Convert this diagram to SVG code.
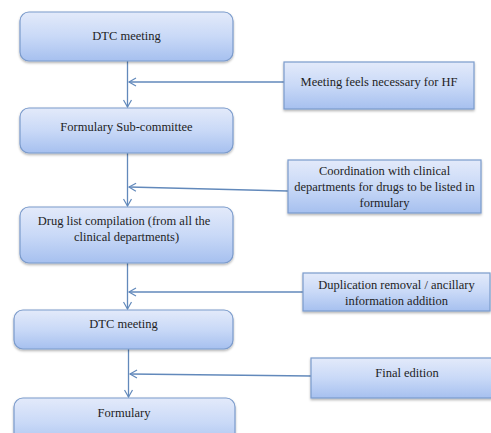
<svg xmlns="http://www.w3.org/2000/svg" width="491" height="433" viewBox="0 0 491 433">
<defs>
<linearGradient id="g" x1="0" y1="0" x2="0" y2="1">
<stop offset="0" stop-color="#e3eafa"/>
<stop offset="0.5" stop-color="#c9d9f7"/>
<stop offset="1" stop-color="#a6c0ef"/>
</linearGradient>
<filter id="sh" x="-5%" y="-10%" width="110%" height="130%">
<feDropShadow dx="0" dy="1.5" stdDeviation="1.2" flood-color="#000" flood-opacity="0.3"/>
</filter>
<marker id="ah" markerWidth="10" markerHeight="10" refX="8" refY="5" orient="auto" markerUnits="userSpaceOnUse">
<path d="M1,1 L8,5 L1,9" fill="none" stroke="#6289bb" stroke-width="1.2"/>
</marker>
</defs>
<style>
.box{fill:url(#g);stroke:#7b9bcc;stroke-width:1.2;filter:url(#sh)}
.t{font-size:12.5px;fill:#1e1e1e;text-anchor:middle}
.c{stroke:#6289bb;stroke-width:1.3;fill:none}
</style>
<rect width="491" height="433" fill="#fff"/>
<g id="connectors">
<line class="c" x1="127.5" y1="61" x2="127.5" y2="107" marker-end="url(#ah)"/>
<line class="c" x1="284" y1="82" x2="129" y2="82" marker-end="url(#ah)"/>
<line class="c" x1="127.5" y1="153" x2="127.5" y2="206" marker-end="url(#ah)"/>
<line class="c" x1="288" y1="191" x2="129" y2="187" marker-end="url(#ah)"/>
<line class="c" x1="127.5" y1="263" x2="127.5" y2="309" marker-end="url(#ah)"/>
<line class="c" x1="303" y1="292" x2="129" y2="292" marker-end="url(#ah)"/>
<line class="c" x1="128.5" y1="349" x2="128.5" y2="397" marker-end="url(#ah)"/>
<line class="c" x1="311" y1="376" x2="130" y2="374" marker-end="url(#ah)"/>
</g>
<g font-family="'Liberation Serif', 'DejaVu Serif', 'Times New Roman', serif">
<g id="n1"><rect class="box" x="20" y="12" width="213" height="49" rx="9"/><text class="t" x="126.5" y="40">DTC meeting</text></g>
<g id="s1"><rect class="box" x="284" y="62" width="190" height="47"/><text class="t" x="379" y="86">Meeting feels necessary for HF</text></g>
<g id="n2"><rect class="box" x="20" y="108" width="213" height="45" rx="9"/><text class="t" x="126.5" y="131">Formulary Sub-committee</text></g>
<g id="s2"><rect class="box" x="288" y="160" width="193" height="53"/><text class="t" x="384.5" y="175">Coordination with clinical</text><text class="t" x="384.5" y="191">departments for drugs to be listed in</text><text class="t" x="384.5" y="207">formulary</text></g>
<g id="n3"><rect class="box" x="20" y="207" width="213" height="56" rx="9"/><text class="t" x="124" y="225">Drug list compilation (from all the</text><text class="t" x="126.5" y="241">clinical departments)</text></g>
<g id="s3"><rect class="box" x="303" y="273" width="187" height="38"/><text class="t" x="396.5" y="289">Duplication removal / ancillary</text><text class="t" x="396.5" y="305">information addition</text></g>
<g id="n4"><rect class="box" x="14" y="310" width="219" height="39" rx="9"/><text class="t" x="123.5" y="328">DTC meeting</text></g>
<g id="s4"><rect class="box" x="311" y="358" width="181" height="40"/><text class="t" x="407" y="377">Final edition</text></g>
<g id="n5"><rect class="box" x="14" y="398" width="221" height="50" rx="9"/><text class="t" x="124" y="417">Formulary</text></g>
</g>
</svg>
